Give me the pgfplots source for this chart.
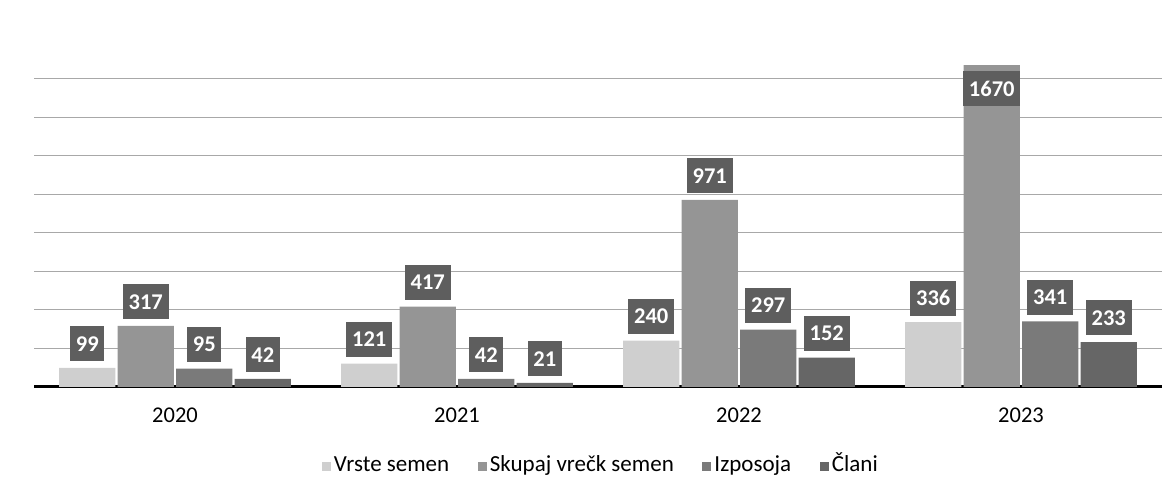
\documentclass[border=0pt]{standalone}
\usepackage{pgfplots}
\pgfplotsset{compat=1.18}
\usepackage{fontspec}
\setmainfont{Carlito}
\definecolor{cVrste}{HTML}{CFCFCF}
\definecolor{cSkupaj}{HTML}{959595}
\definecolor{cIzpos}{HTML}{7A7A7A}
\definecolor{cClani}{HTML}{666666}
\definecolor{cBox}{HTML}{5E5E5E}
\definecolor{cGrid}{HTML}{A8A8A8}
\begin{document}
\begin{tikzpicture}
\path[use as bounding box] (-20.4pt,-67.2pt) rectangle (684.6pt,232.2pt);
\begin{axis}[
  at={(0pt,0pt)}, anchor=south west,
  scale only axis,
  width=676.8pt, height=208.2pt,
  xmin=-0.5, xmax=3.5, ymin=0, ymax=1800,
  ybar=1.3pt,
  bar width=33.8pt,
  ytick={200,400,...,1600},
  yticklabels={},
  ymajorgrids,
  major grid style={cGrid, line width=0.6pt},
  major tick length=0pt,
  xtick={0,1,2,3},
  xticklabels={2020,2021,2022,2023},
  xticklabel style={font=\fontsize{13.5}{15}\selectfont, yshift=-9pt},
  axis x line*=bottom,
  axis y line*=left,
  y axis line style={draw=none},
  x axis line style={black, line width=1.8pt, -},
  clip=false,
  /pgf/number format/assume math mode=true,
  /pgf/number format/1000 sep={},
  nodes near coords,
  visualization depends on={rawy \as \rawy},
  every node near coord/.append style={
     fill=cBox, text=white, anchor=south,
     font=\fontsize{13.5}{15}\selectfont\bfseries,
     inner xsep=3.5pt, inner ysep=0pt, minimum height=21pt,
     yshift={\rawy>1500 ? -25 : 3.8}},
  legend columns=-1,
  legend style={draw=none, fill=none, at={(0.503,-0.228)}, anchor=center,
     font=\fontsize{13.8}{15}\selectfont,
     nodes={text height=1.9ex, text depth=0.45ex},
     /tikz/every even column/.append style={column sep=15pt}},
  legend image code/.code={\fill[#1] (0pt,-2.7pt) rectangle (5.4pt,2.7pt);},
]
\addplot[fill=cVrste, draw=none] table[x=x, y=y] {
x y
0 99
1 121
2 240
3 336
};
\addlegendentry{Vrste semen}
\addplot[fill=cSkupaj, draw=none] table[x=x, y=y] {
x y
0 317
1 417
2 971
3 1670
};
\addlegendentry{Skupaj vrečk semen}
\addplot[fill=cIzpos, draw=none] table[x=x, y=y] {
x y
0 95
1 42
2 297
3 341
};
\addlegendentry{Izposoja}
\addplot[fill=cClani, draw=none] table[x=x, y=y] {
x y
0 42
1 21
2 152
3 233
};
\addlegendentry{Člani}
\end{axis}
\end{tikzpicture}
\end{document}
